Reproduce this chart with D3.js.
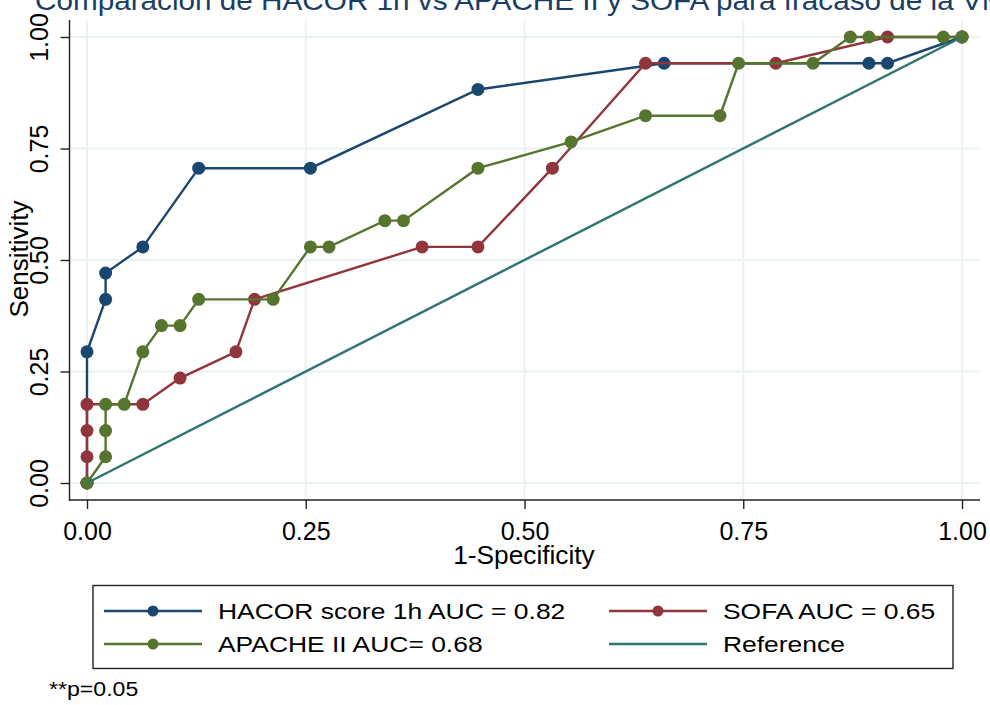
<!DOCTYPE html>
<html>
<head>
<meta charset="utf-8">
<title>ROC HACOR vs APACHE II vs SOFA</title>
<script src="https://d3js.org/d3.v7.min.js"></script>
<style>
  body { margin: 0; background: #fff; }
  text { font-family: "Liberation Sans", Arial, sans-serif; }
</style>
</head>
<body>
<div id="chart"></div>
<script>
// ROC points: [1-specificity, sensitivity]  (47 negatives, 17 positives)
var hacor = [[0,0],[0,5/17],[1/47,7/17],[1/47,8/17],[3/47,9/17],[6/47,12/17],[12/47,12/17],
             [21/47,15/17],[31/47,16/17],[42/47,16/17],[43/47,16/17],[1,1]];
var sofa = [[0,0],[0,1/17],[0,2/17],[0,3/17],[3/47,3/17],[5/47,4/17],[8/47,5/17],[9/47,7/17],
            [18/47,9/17],[21/47,9/17],[25/47,12/17],[30/47,16/17],[37/47,16/17],[43/47,1],[1,1]];
var apache = [[0,0],[1/47,1/17],[1/47,2/17],[1/47,3/17],[2/47,3/17],[3/47,5/17],[4/47,6/17],[5/47,6/17],
              [6/47,7/17],[10/47,7/17],[12/47,9/17],[13/47,9/17],[16/47,10/17],[17/47,10/17],
              [21/47,12/17],[26/47,13/17],[30/47,14/17],[34/47,14/17],[35/47,16/17],[39/47,16/17],
              [41/47,1],[42/47,1],[46/47,1],[1,1]];
var reference = [[0,0],[1,1]];
var ticks = [0, 0.25, 0.5, 0.75, 1];
var legendLabels = ["HACOR score 1h AUC = 0.82", "SOFA AUC = 0.65", "APACHE II AUC= 0.68", "Reference"];

var width = 990, height = 705;
var colors = { hacor: "#1a476f", sofa: "#90353b", apache: "#55752f", ref: "#2e7572" };

var svg = d3.select("#chart").append("svg")
    .attr("width", width).attr("height", height);

var x = d3.scaleLinear().domain([0, 1]).range([87, 962]);
var y = d3.scaleLinear().domain([0, 1]).range([483, 37]);

// title (cut off at the top in the original)
svg.append("text")
    .attr("transform", "translate(35,10) scale(1.1,1)")
    .style("font-size", "27px").style("fill", "#1a3d66")
    .text("Comparación de HACOR 1h vs APACHE II y SOFA para fracaso de la VMNI");

// grid
svg.append("g").selectAll("line.gx").data(ticks).enter().append("line")
    .attr("x1", d => x(d)).attr("x2", d => x(d)).attr("y1", 20).attr("y2", 500)
    .style("stroke", "#eaf2f3").style("stroke-width", 2);
svg.append("g").selectAll("line.gy").data(ticks).enter().append("line")
    .attr("x1", 70).attr("x2", 980).attr("y1", d => y(d)).attr("y2", d => y(d))
    .style("stroke", "#eaf2f3").style("stroke-width", 2);

// axes
var xAxis = svg.append("g").attr("transform", "translate(0,500)")
    .call(d3.axisBottom(x).tickValues(ticks).tickFormat(d3.format(".2f")).tickSize(9).tickSizeOuter(0));
xAxis.select(".domain").attr("d", "M69,0H980");
xAxis.selectAll("text").attr("dy", "0").attr("y", 40).style("font-size", "25px").style("fill", "#000");

var yAxis = svg.append("g").attr("transform", "translate(69.5,0)")
    .call(d3.axisLeft(y).tickValues(ticks).tickFormat(d3.format(".2f")).tickSize(9).tickSizeOuter(0));
yAxis.select(".domain").attr("d", "M0,20V501");
yAxis.selectAll("text")
    .attr("x", null).attr("dy", null)
    .attr("transform", "translate(-21.5,0) rotate(-90)")
    .attr("y", 0)
    .style("text-anchor", "middle").style("font-size", "25px").style("fill", "#000");
svg.selectAll(".domain, .tick line").style("stroke", "#222").style("stroke-width", 1.4);

svg.append("text")
    .attr("transform", "translate(27.5,259) rotate(-90)")
    .style("text-anchor", "middle").style("font-size", "26px")
    .text("Sensitivity");
svg.append("text")
    .attr("transform", "translate(524,564) scale(1.05,1)")
    .style("text-anchor", "middle").style("font-size", "25px")
    .text("1-Specificity");

// curves
var line = d3.line().x(d => x(d[0])).y(d => y(d[1]));
function curve(data, color) {
    svg.append("path").datum(data).attr("d", line)
        .style("fill", "none").style("stroke", color).style("stroke-width", 2.4);
    svg.append("g").selectAll("circle").data(data).enter().append("circle")
        .attr("cx", d => x(d[0])).attr("cy", d => y(d[1])).attr("r", 6.5)
        .style("fill", color);
}
curve(hacor, colors.hacor);
curve(sofa, colors.sofa);
curve(apache, colors.apache);
svg.append("path").datum(reference).attr("d", line)
    .style("fill", "none").style("stroke", colors.ref).style("stroke-width", 2.4);

// legend
var lg = svg.append("g");
lg.append("rect").attr("x", 93).attr("y", 585.5).attr("width", 860).attr("height", 83)
    .style("fill", "#fff").style("stroke", "#222").style("stroke-width", 1.4);
var items = [
    { label: legendLabels[0], color: colors.hacor, mk: true, kx: 104, ty: 611 },
    { label: legendLabels[1], color: colors.sofa, mk: true, kx: 609, ty: 611 },
    { label: legendLabels[2], color: colors.apache, mk: true, kx: 104, ty: 644 },
    { label: legendLabels[3], color: colors.ref, mk: false, kx: 609, ty: 644 }
];
items.forEach(function(it) {
    lg.append("line").attr("x1", it.kx).attr("x2", it.kx + 98).attr("y1", it.ty).attr("y2", it.ty)
        .style("stroke", it.color).style("stroke-width", 2.4);
    if (it.mk) lg.append("circle").attr("cx", it.kx + 49).attr("cy", it.ty).attr("r", 5.5).style("fill", it.color);
    lg.append("text").attr("transform", "translate(" + (it.kx + 114) + "," + (it.ty + 7.5) + ") scale(1.23,1)")
        .style("font-size", "21.5px").text(it.label);
});

svg.append("text").attr("transform", "translate(49,696) scale(1.1,1)")
    .style("font-size", "21px").text("**p=0.05");
</script>
</body>
</html>
